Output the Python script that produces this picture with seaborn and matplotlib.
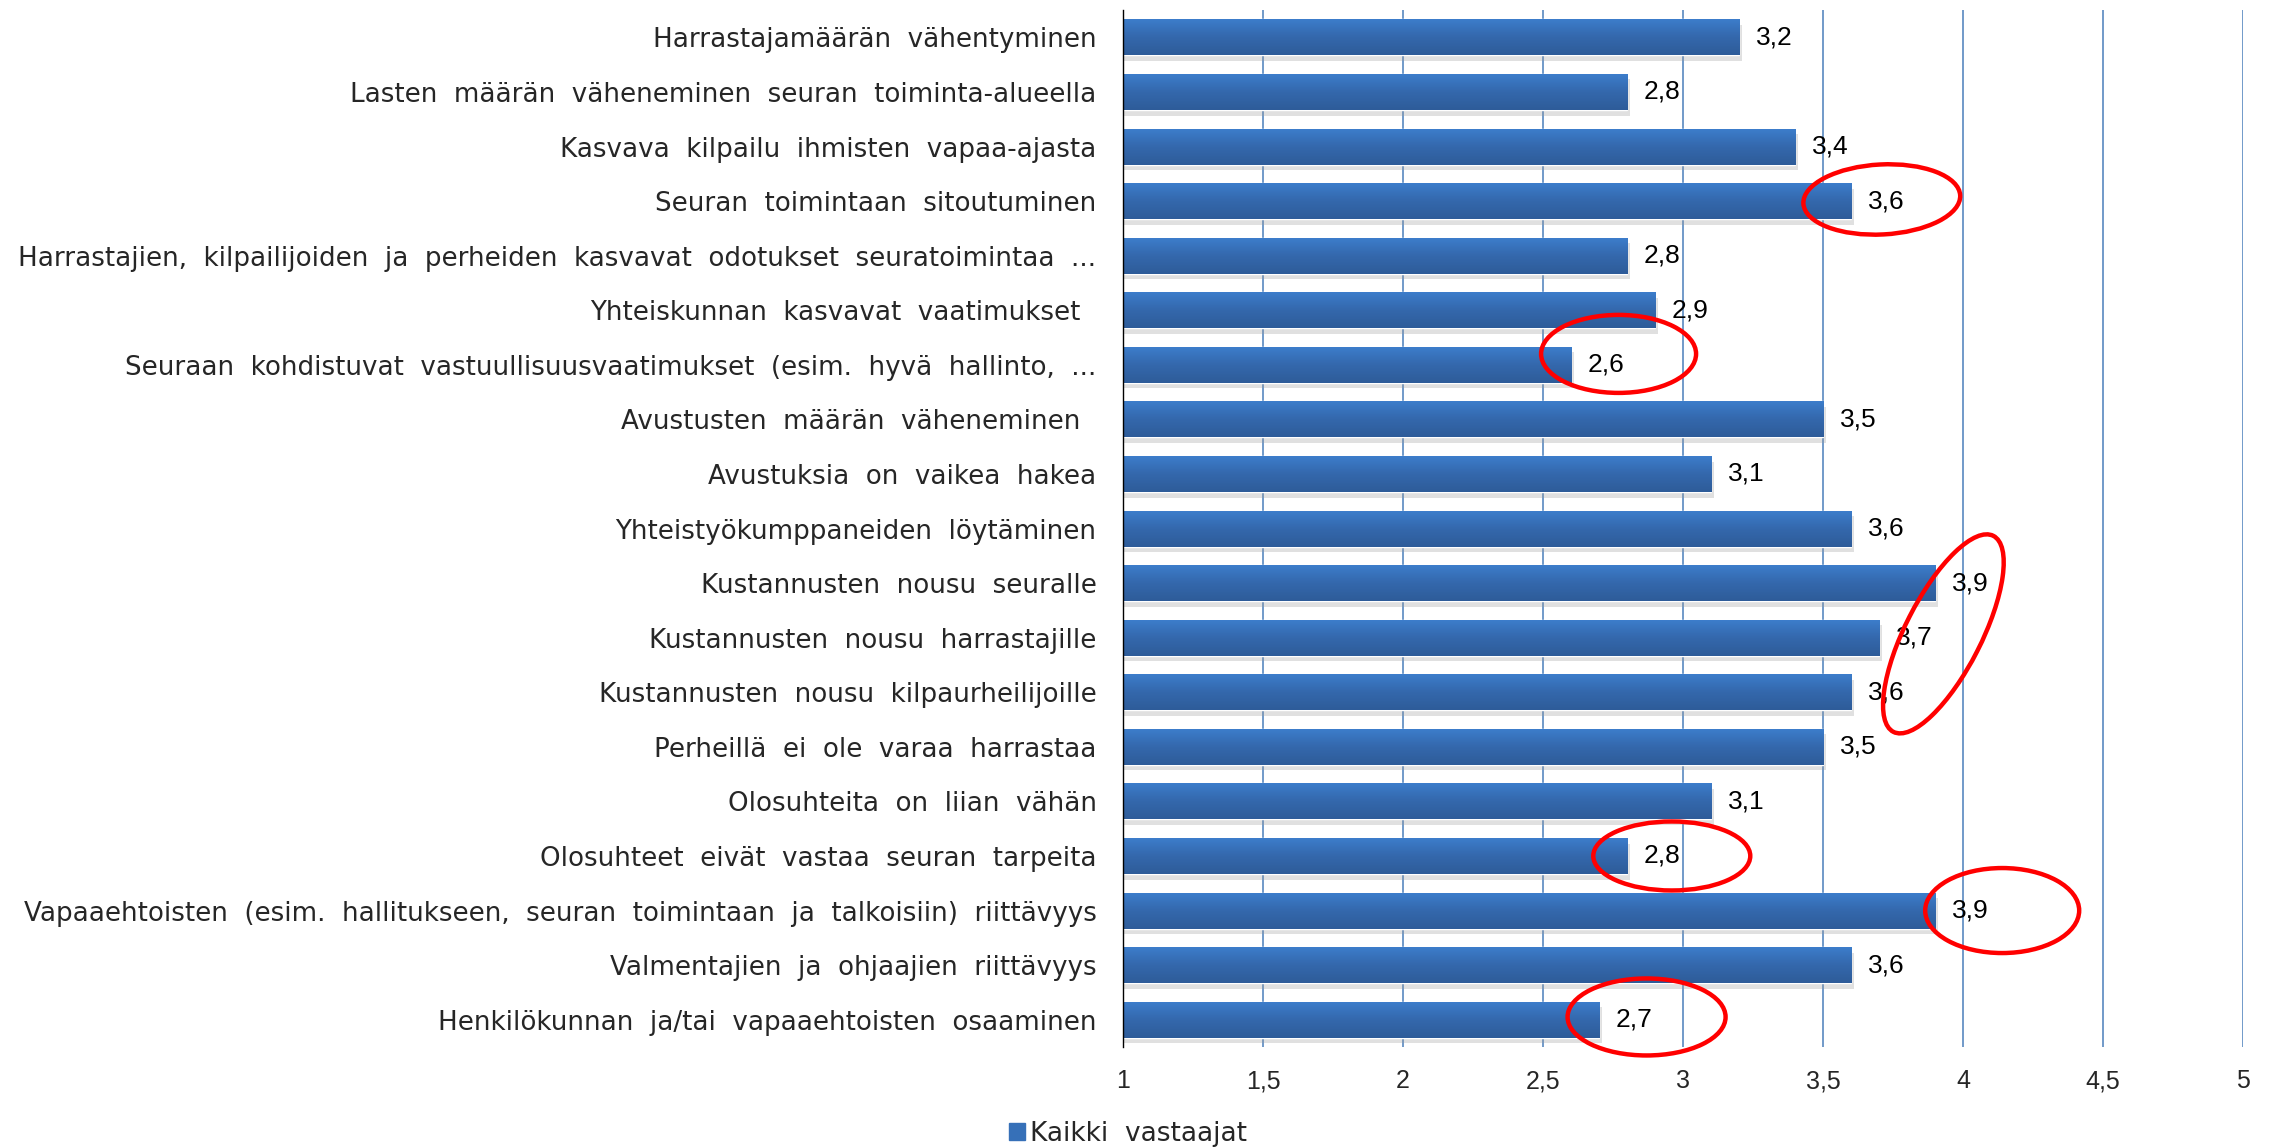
import numpy as np
import pandas as pd
import matplotlib
matplotlib.use("Agg")
import matplotlib.pyplot as plt
import seaborn as sns
from matplotlib.patches import Ellipse, Patch
from matplotlib.transforms import ScaledTranslation
from matplotlib.colors import LinearSegmentedColormap
import matplotlib.patheffects as pe

# data
kategoriat = [
    "Harrastajamäärän vähentyminen",
    "Lasten määrän väheneminen seuran toiminta-alueella",
    "Kasvava kilpailu ihmisten vapaa-ajasta",
    "Seuran toimintaan sitoutuminen",
    "Harrastajien, kilpailijoiden ja perheiden kasvavat odotukset seuratoimintaa ...",
    "Yhteiskunnan kasvavat vaatimukset ",
    "Seuraan kohdistuvat vastuullisuusvaatimukset (esim. hyvä hallinto, ...",
    "Avustusten määrän väheneminen ",
    "Avustuksia on vaikea hakea",
    "Yhteistyökumppaneiden löytäminen",
    "Kustannusten nousu seuralle",
    "Kustannusten nousu harrastajille",
    "Kustannusten nousu kilpaurheilijoille",
    "Perheillä ei ole varaa harrastaa",
    "Olosuhteita on liian vähän",
    "Olosuhteet eivät vastaa seuran tarpeita",
    "Vapaaehtoisten (esim. hallitukseen, seuran toimintaan ja talkoisiin) riittävyys",
    "Valmentajien ja ohjaajien riittävyys",
    "Henkilökunnan ja/tai vapaaehtoisten osaaminen",
]
kaikki_vastaajat = [3.2, 2.8, 3.4, 3.6, 2.8, 2.9, 2.6, 3.5, 3.1, 3.6,
                    3.9, 3.7, 3.6, 3.5, 3.1, 2.8, 3.9, 3.6, 2.7]
x_ticks = [1, 1.5, 2, 2.5, 3, 3.5, 4, 4.5, 5]

# red hand-drawn circles: (row, x offset from value, row offset, width px, height px, angle)
ympyrat = [(3, 0.11, -0.03, 157, 70, 3), (6, 0.17, -0.2, 155, 78, 0),
           (11, 0.23, -0.07, 220, 76, 63), (15, 0.16, 0.0, 157, 69, 0),
           (16, 0.24, 0.0, 154, 85, 0), (18, 0.17, -0.05, 158, 77, 0)]

df = pd.DataFrame({"kategoria": kategoriat, "arvo": kaikki_vastaajat})
# the original uses wide word spacing
nimet = [k.replace(" ", "  ") for k in kategoriat]

sns.set_style("white")
plt.rcParams["font.family"] = ["Liberation Sans", "DejaVu Sans"]

fig = plt.figure(figsize=(22.7, 11.47), dpi=100)
ax = fig.add_axes([0.4947, 0.0872, 0.4934, 0.904])

sns.barplot(data=df, x="arvo", y="kategoria", color="#3670b8", width=0.66,
            saturation=1, ax=ax, zorder=3)

# gradient + shadow on bars
cmap = LinearSegmentedColormap.from_list("bar", ["#3d7ecc", "#3468ad", "#2e5c99"])
grad = np.linspace(0, 1, 50).reshape(-1, 1)
for p in ax.patches:
    p.set_path_effects([pe.SimplePatchShadow(offset=(2, -4), shadow_rgbFace="#999999", alpha=0.3),
                        pe.Normal()])
    x0, y0, w, h = p.get_x(), p.get_y(), p.get_width(), p.get_height()
    im = ax.imshow(grad, extent=[max(x0, 1), x0 + w, y0 + h, y0], aspect="auto", cmap=cmap,
                   zorder=4, interpolation="bilinear")
    im.set_clip_path(p)

for i, v in enumerate(kaikki_vastaajat):
    ax.text(v + 0.06, i, f"{v:.1f}".replace(".", ","), va="center", ha="left",
            fontsize=19, color="black", zorder=5)

ax.set_xlim(1, 5)
ax.set_ylim(18.5, -0.5)
ax.set_xticks(x_ticks)
ax.set_xticklabels([str(t).replace(".", ",") for t in x_ticks], fontsize=18)
ax.set_yticklabels(nimet, family="DejaVu Sans", fontsize=18.8)
ax.tick_params(axis="y", length=0, pad=19)
ax.tick_params(axis="x", length=0, pad=16)
ax.set_xlabel("")
ax.set_ylabel("")
ax.xaxis.grid(True, color="#4a7ebb", lw=1.1, zorder=0)
ax.yaxis.grid(False)
for s in ["top", "right", "bottom"]:
    ax.spines[s].set_visible(False)
ax.spines["left"].set_color("black")
ax.spines["left"].set_linewidth(1.0)
ax.spines["left"].set_zorder(6)

for rivi, dx, dy, w, h, kulma in ympyrat:
    tr = fig.dpi_scale_trans + ScaledTranslation(kaikki_vastaajat[rivi] + dx, rivi + dy, ax.transData)
    ax.add_patch(Ellipse((0, 0), w / 100, h / 100, angle=kulma, transform=tr, fill=False,
                         ec="#ff0000", lw=3.2, zorder=7, clip_on=False))

fig.legend(handles=[Patch(color="#3670b8", label="Kaikki  vastaajat")], loc="center left",
           bbox_to_anchor=(0.4445, 0.0113), frameon=False, borderpad=0, borderaxespad=0,
           handlelength=0.6, handleheight=0.6, handletextpad=0.2,
           prop={"family": "DejaVu Sans", "size": 19})

fig.savefig("out.png", dpi=100)
